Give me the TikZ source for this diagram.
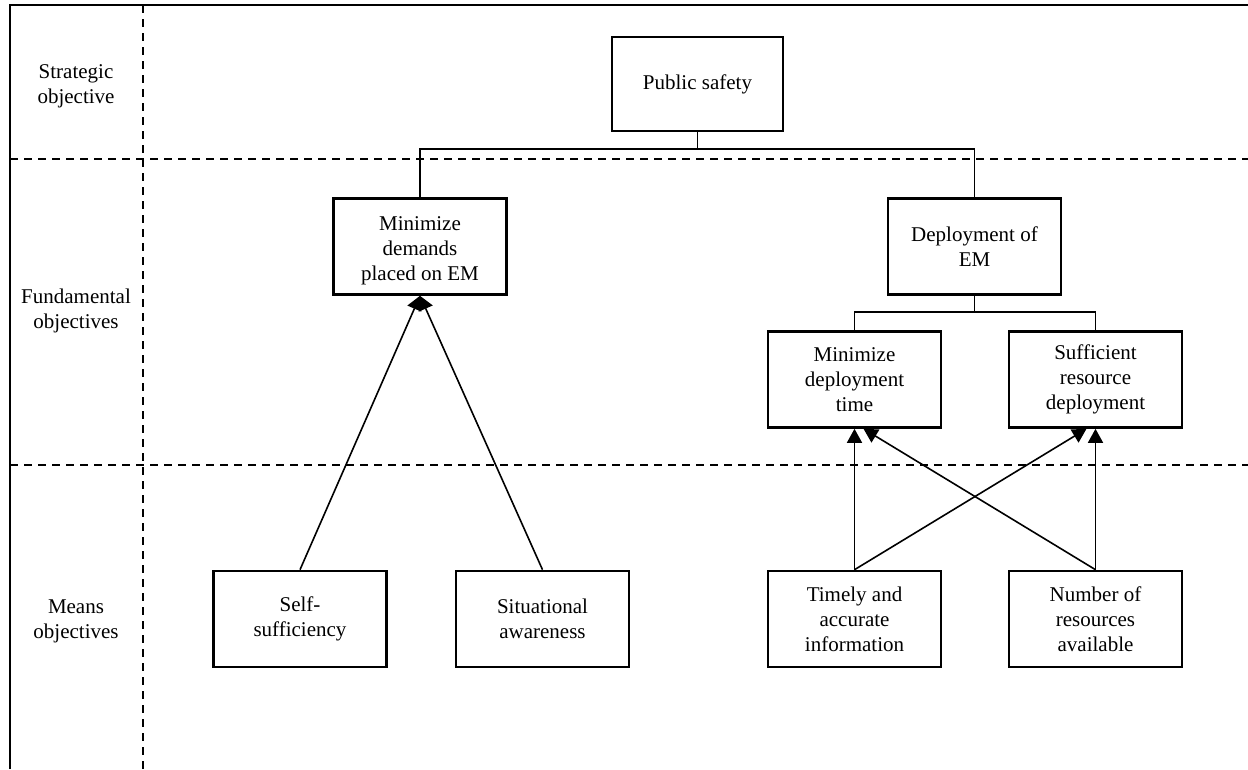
\documentclass[tikz,border=0pt]{standalone}
\usepackage{fontspec}
\setmainfont{Liberation Serif}
\usetikzlibrary{arrows.meta}
\begin{document}
\begin{tikzpicture}[x=1pt,y=-1pt,
  box/.style={draw,line width=2.6pt,minimum width=173pt,minimum height=96pt,align=center,inner sep=2pt,font=\fontsize{21}{25}\selectfont},
  lbl/.style={align=center,font=\fontsize{21}{25}\selectfont},
  conn/.style={line width=1.6pt},
  arr/.style={line width=1.6pt,-{Triangle[length=14pt,width=15pt]}},
  sep/.style={line width=1.8pt,dash pattern=on 8pt off 6pt},
  frame/.style={line width=2.8pt}]
\useasboundingbox (0,0) rectangle (1248,769);
% frame
\draw[frame] (10,769) -- (10,5) -- (1248,5);
% separators
\draw[sep] (143,5) -- (143,769);
\draw[sep] (10,159) -- (1248,159);
\draw[sep] (10,465) -- (1248,465);
% row labels
\node[lbl] (l1) at (76,86) {Strategic\\objective};
\node[lbl] (l2) at (76,311) {Fundamental\\objectives};
\node[lbl] (l3) at (76,621) {Means\\objectives};
% boxes
\node[box,minimum width=171pt,minimum height=94pt] (ps) at (697.5,84) {Public safety};
\node[box,label={[lbl,yshift=-4pt]center:Minimize\\demands\\placed on EM}] (md) at (420,246.5) {};
\node[box] (de) at (974.5,246.5) {Deployment of\\EM};
\node[box] (mt) at (854.5,379.5) {Minimize\\deployment\\time};
\node[box] (sr) at (1095.5,379.5) {Sufficient\\resource\\deployment};
\node[box] (ss) at (300,619) {Self-\\sufficiency};
\node[box] (sa) at (542.5,619) {Situational\\awareness};
\node[box] (ti) at (854.5,619) {Timely and\\accurate\\information};
\node[box] (nr) at (1095.5,619) {Number of\\resources\\available};
% tree connectors
\coordinate (j1) at (697.5,149);
\draw[conn] (ps.south) -- (j1);
\draw[conn] (md.north) |- (j1) -| (de.north);
\coordinate (j2) at (974.5,312);
\draw[conn] (de.south) -- (j2);
\draw[conn] (mt.north) |- (j2) -| (sr.north);
% means arrows
\draw[arr] (ss.north) -- (md.south);
\draw[arr] (sa.north) -- (md.south);
\draw[arr] (ti.north) -- (mt.south);
\draw[arr] (nr.north) -- (sr.south);
\draw[arr] (ti.north) -- ([xshift=-9pt]sr.south);
\draw[arr] (nr.north) -- ([xshift=9pt]mt.south);
\end{tikzpicture}
\end{document}
